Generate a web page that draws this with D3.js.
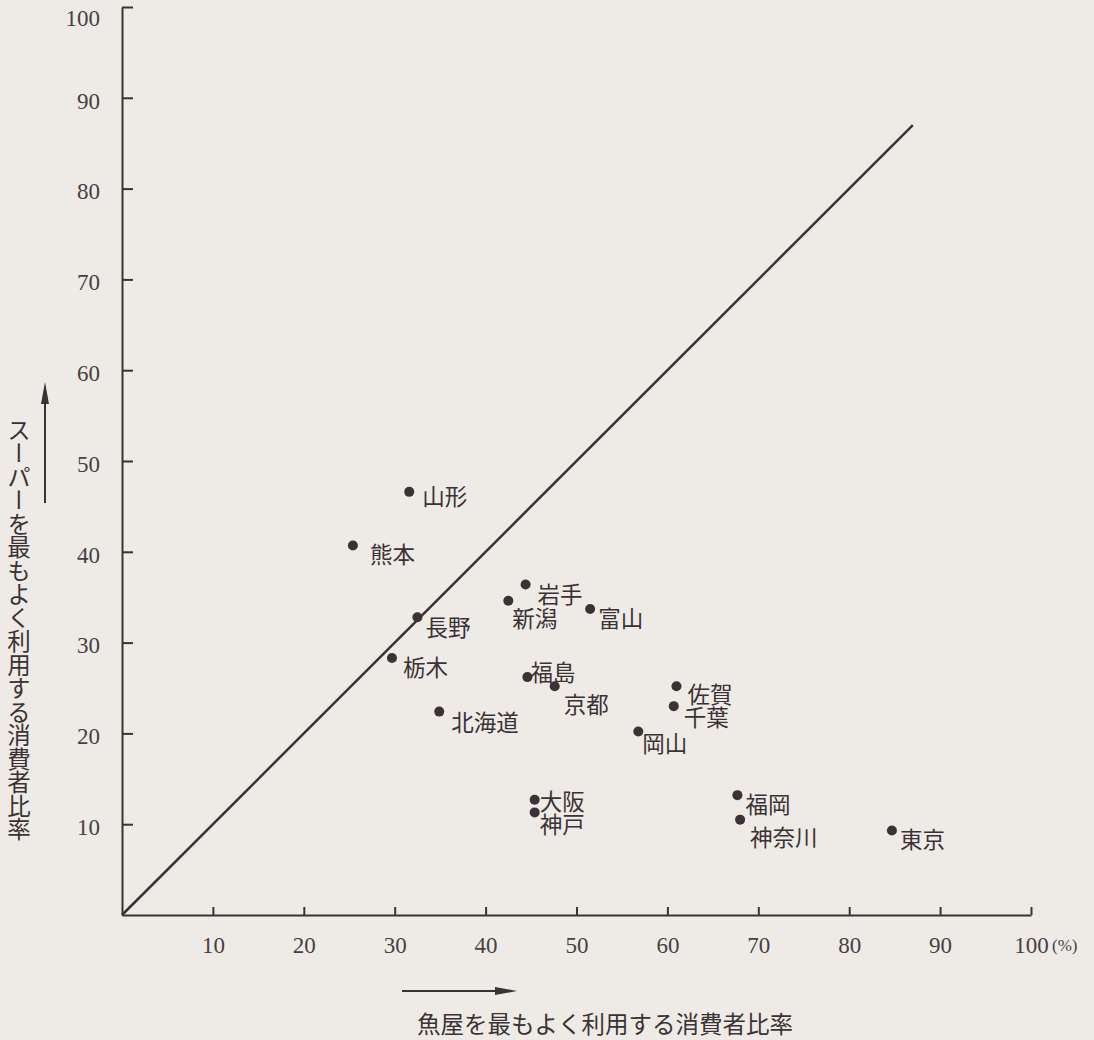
<!DOCTYPE html>
<html>
<head>
<meta charset="utf-8">
<title>魚屋とスーパーの利用者比率</title>
<script src="https://d3js.org/d3.v7.min.js"></script>
<style>
  body { margin: 0; background: #eeebe6; }
</style>
</head>
<body>
<script>

// 都市名と比率(%)
var cities = ["山形", "熊本", "岩手", "新潟", "富山", "長野", "栃木", "福島", "京都",
              "北海道", "佐賀", "千葉", "岡山", "大阪", "神戸", "福岡", "神奈川", "東京"];
var fishShare = [31.6, 25.4, 44.4, 42.5, 51.5, 32.5, 29.7, 44.6, 47.6,
                 34.9, 61.0, 60.7, 56.8, 45.4, 45.4, 67.7, 68.0, 84.7];
var superShare = [46.6, 40.7, 36.4, 34.6, 33.7, 32.8, 28.3, 26.2, 25.2,
                  22.4, 25.2, 23.0, 20.2, 12.7, 11.3, 13.2, 10.5, 9.3];
var tickValues = [10, 20, 30, 40, 50, 60, 70, 80, 90, 100];
var diagonalEnd = 87;

var xTitle = "魚屋を最もよく利用する消費者比率";
var yTitle = "スーパーを最もよく利用する消費者比率";

var width = 1094, height = 1040;
var ink = "#3a3235";
var serif = "'Liberation Serif', 'DejaVu Serif', serif";
var cjk = "'Noto Sans CJK JP', sans-serif";

// label offset from its dot [dx, dy]
var labelOffset = {
    "山形": [13, 3], "熊本": [17, 8], "岩手": [12, 9], "新潟": [4, 16], "富山": [8, 8],
    "長野": [8, 9], "栃木": [11, 8], "福島": [3, -6], "京都": [9, 17], "北海道": [12, 9],
    "佐賀": [11, 7], "千葉": [10, 10], "岡山": [4, 10], "大阪": [5, 0], "神戸": [5, 11],
    "福岡": [8, 8], "神奈川": [10, 16], "東京": [8, 7]
};

var svg = d3.select("body").append("svg")
    .attr("width", width)
    .attr("height", height);

svg.append("rect")
    .attr("width", width)
    .attr("height", height)
    .attr("fill", "#eeebe6");

var x = d3.scaleLinear().domain([0, 100]).range([122, 1031]);
var y = d3.scaleLinear().domain([0, 100]).range([915, 7]);

// axes
var xAxis = d3.axisBottom(x)
    .tickValues(tickValues)
    .tickSizeInner(-8)
    .tickSizeOuter(0)
    .tickPadding(22);
var yAxis = d3.axisLeft(y)
    .tickValues(tickValues)
    .tickSizeInner(-11)
    .tickSizeOuter(0)
    .tickPadding(22);

var gx = svg.append("g")
    .attr("transform", "translate(0," + y(0) + ")")
    .call(xAxis);
var gy = svg.append("g")
    .attr("transform", "translate(" + x(0) + ",0)")
    .call(yAxis);

[gx, gy].forEach(function(g) {
    g.select(".domain").attr("stroke", ink).attr("stroke-width", 2);
    g.selectAll(".tick line").attr("stroke", ink).attr("stroke-width", 2);
    g.selectAll(".tick text")
        .attr("fill", "#464043")
        .style("font-family", serif)
        .style("font-size", "23px");
});
gy.selectAll(".tick text").attr("y", function(d) { return d === 100 ? 11 : 3; });

svg.append("text")
    .attr("x", 1052)
    .attr("y", 945)
    .attr("dominant-baseline", "central")
    .attr("fill", "#464043")
    .style("font-family", serif)
    .style("font-size", "17px")
    .text("(%)");

// diagonal y = x
svg.append("line")
    .attr("x1", x(0)).attr("y1", y(0))
    .attr("x2", x(diagonalEnd)).attr("y2", y(diagonalEnd))
    .attr("stroke", ink)
    .attr("stroke-width", 2.5);

// points
var data = cities.map(function(c, i) {
    return { name: c, fish: fishShare[i], sup: superShare[i] };
});

svg.selectAll("circle.pt")
    .data(data)
    .join("circle")
    .attr("class", "pt")
    .attr("cx", function(d) { return x(d.fish); })
    .attr("cy", function(d) { return y(d.sup); })
    .attr("r", 5)
    .attr("fill", ink);

svg.selectAll("text.lbl")
    .data(data)
    .join("text")
    .attr("class", "lbl")
    .attr("x", function(d) { return x(d.fish) + labelOffset[d.name][0]; })
    .attr("y", function(d) { return y(d.sup) + labelOffset[d.name][1]; })
    .attr("dominant-baseline", "central")
    .attr("fill", ink)
    .style("font-family", cjk)
    .style("font-size", "22.5px")
    .text(function(d) { return d.name; });

// axis titles with arrows
function arrow(x1, y1, x2, y2) {
    var ang = Math.atan2(y2 - y1, x2 - x1);
    var len = 22, half = 4;
    var bx = x2 - len * Math.cos(ang), by = y2 - len * Math.sin(ang);
    svg.append("line")
        .attr("x1", x1).attr("y1", y1)
        .attr("x2", bx).attr("y2", by)
        .attr("stroke", ink).attr("stroke-width", 2);
    svg.append("path")
        .attr("d", "M" + x2 + "," + y2 +
            "L" + (bx - half * Math.sin(ang)) + "," + (by + half * Math.cos(ang)) +
            "L" + (bx + half * Math.sin(ang)) + "," + (by - half * Math.cos(ang)) + "Z")
        .attr("fill", ink);
}

arrow(402, 991, 517, 991);
arrow(45, 503, 45, 382);

svg.append("text")
    .attr("x", 417)
    .attr("y", 1023)
    .attr("dominant-baseline", "central")
    .attr("fill", ink)
    .style("font-family", cjk)
    .style("font-size", "23.5px")
    .text(xTitle);

svg.append("text")
    .attr("x", 19)
    .attr("y", 418)
    .attr("fill", ink)
    .style("font-family", cjk)
    .style("font-size", "23.5px")
    .style("writing-mode", "vertical-rl")
    .style("glyph-orientation-vertical", "auto")
    .text(yTitle);

</script>
</body>
</html>
